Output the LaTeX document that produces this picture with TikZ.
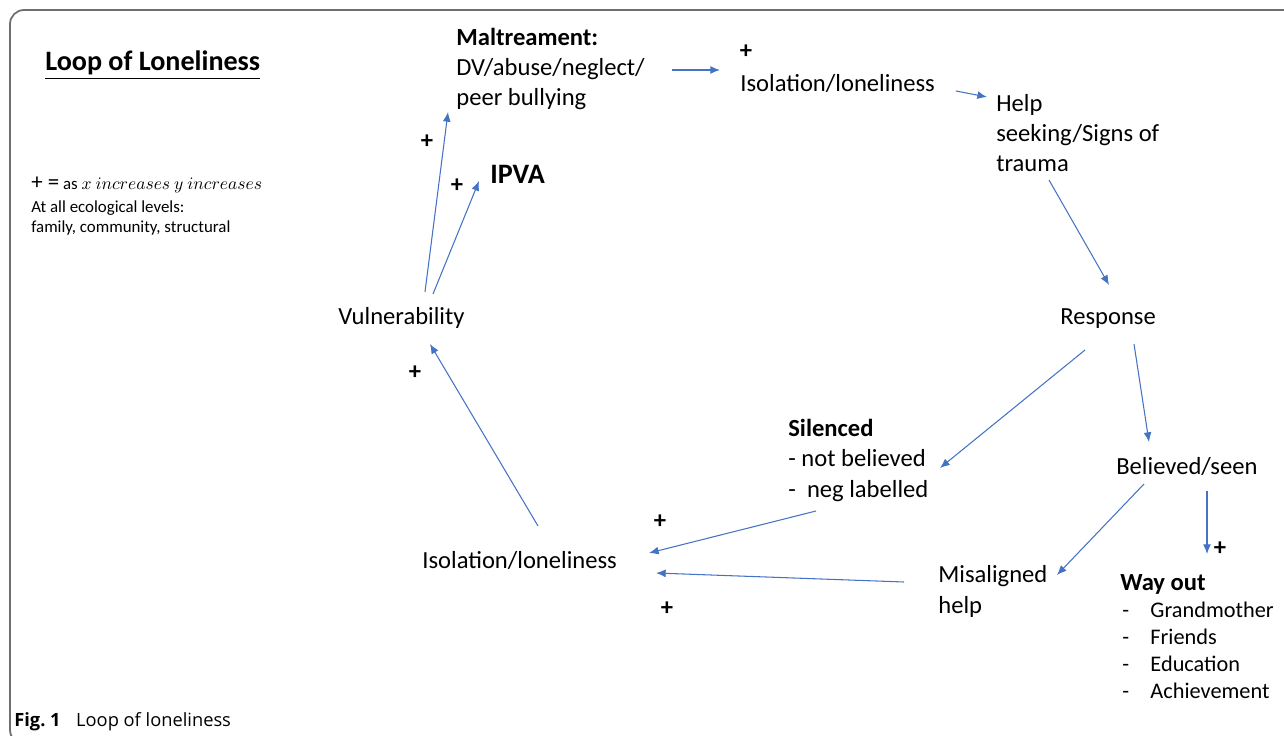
\documentclass[tikz,border=0pt]{standalone}
\usepackage{fontspec}
\setmainfont{Carlito}
\newfontfamily\capfont{Open Sans}
\usetikzlibrary{
arrows.meta,
calc,
positioning
}
\definecolor{linkblue}{HTML}{4472C4}
\definecolor{framegray}{HTML}{6E6E6E}
\tikzset{>=latex}
\newcommand{\wayitem}[1]{\makebox[16pt][l]{-}#1}

\begin{document}
\begin{tikzpicture}[x=0.02cm,y=-0.02cm,
		every node/.style={inner sep=0pt,font=\fontsize{14}{17.3}\selectfont},
		txt/.style={anchor=base west,align=left},
		plus/.style={font=\fontsize{14}{17}\selectfont\bfseries},
		link/.style={draw=linkblue,line width=0.6pt,-{Latex[length=5.5pt,width=4.5pt]}}]
		\useasboundingbox (0,0) rectangle (1284,736);
		\draw[framegray,line width=1pt,rounded corners=8pt] (10,10) rectangle (1310,744);
		
		% base west = baseline of the last line
		\node[txt,font=\fontsize{16}{19}\selectfont\bfseries] (title) at (45,71) {\underline{Loop of Loneliness}};
		\node[txt,font=\fontsize{9.6}{11.8}\selectfont] (legend) at (31,233) {{\fontsize{13}{14}\selectfont + =} as {\fontsize{10}{12}\selectfont$x\ increases\ y\ increases$}\\[1pt]At all ecological levels:\\family, community, structural};
		
		% the loop
		\node[txt] (mal) at (456,106) {\textbf{Maltreament:}\\DV/abuse/neglect/\\peer bullying};
		\node[txt] (isotop) at (740,92) {Isolation/loneliness};
		\node[txt] (help) at (996,172) {Help\\seeking/Signs of\\trauma};
		\node[txt,font=\fontsize{16}{19}\selectfont\bfseries] (ipva) at (490,184) {IPVA};
		\node[txt] (vuln) at (338,325) {Vulnerability};
		\node[txt] (resp) at (1060,325) {Response};
		\node[txt] (silenced) at (788,497) {\textbf{Silenced}\\- not believed\\- \ neg labelled};
		\node[txt] (believed) at (1116,474) {Believed/seen};
		\node[txt] (isobot) at (422,568) {Isolation/loneliness};
		\node[txt] (misal) at (938,613) {Misaligned\\help};
		\node[txt,font=\fontsize{14}{17}\selectfont\bfseries] (wayout) at (1120,590) {Way out};
		\node[txt,font=\fontsize{12.7}{15.3}\selectfont] (waylist) at (1122,698) {\wayitem{Grandmother}\\\wayitem{Friends}\\\wayitem{Education}\\\wayitem{Achievement}};
		
		\node[plus] (plusmal) at (427,142) {+};
		\node[plus] (plusipva) at (457,186) {+};
		\node[plus] (plusiso) at (746,52) {+};
		\node[plus] (plusvuln) at (415,373) {+};
		\node[plus] (plussil) at (660,522) {+};
		\node[plus] (plusmis) at (667,609) {+};
		\node[plus] (plusway) at (1220,549) {+};
		
		\draw[link] ([shift={(216,-36)}]mal.base west) -- ([shift={(-20,-22)}]isotop.base west);
		\draw[link] ([shift={(216,-1)}]isotop.base west) -- ([shift={(-9,-75)}]help.base west);
		\draw[link] ([shift={(53,8)}]help.base west) -- ([shift={(49,-40)}]resp.base west);
		\draw[link] ([shift={(25,25)}]resp.base west) -- ([shift={(152,-29)}]silenced.base west);
		\draw[link] ([shift={(74,19)}]resp.base west) -- ([shift={(33,-32)}]believed.base west);
		\draw[link] ([shift={(28,10)}]believed.base west) -- ([shift={(119,-38)}]misal.base west);
		\draw[link] ([shift={(91,17)}]believed.base west) -- ([shift={(87,-36)}]wayout.base west);
		\draw[link] ([shift={(28,14)}]silenced.base west) -- ([shift={(227,-15)}]isobot.base west);
		\draw[link] ([shift={(-34,-31)}]misal.base west) -- ([shift={(234,5)}]isobot.base west);
		\draw[link] ([shift={(116,-42)}]isobot.base west) -- ([shift={(92,19)}]vuln.base west);
		\draw[link] ([shift={(87,-33)}]vuln.base west) -- ([shift={(-8,6)}]mal.base west);
		\draw[link] ([shift={(95,-31)}]vuln.base west) -- ([shift={(-11,-3)}]ipva.base west);
		
		\node[txt,font=\capfont\fontsize{10.4}{13}\selectfont] (caption) at (14,726) {\textbf{Fig.~1}\hspace{0.85em}Loop of loneliness};
\end{tikzpicture}
\end{document}
